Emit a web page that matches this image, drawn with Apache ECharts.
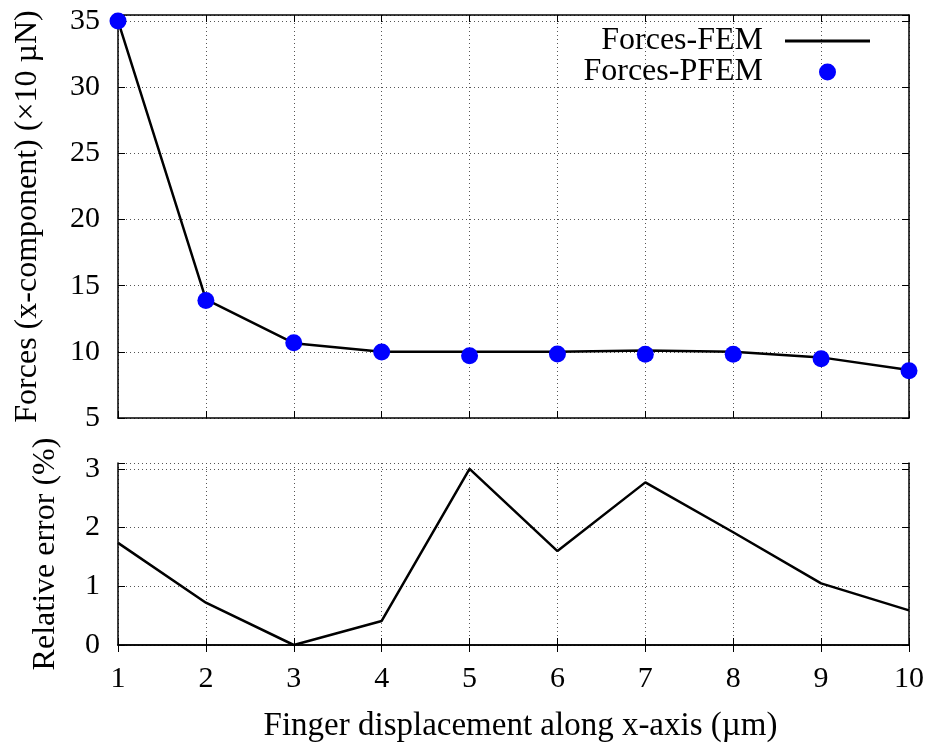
<!DOCTYPE html>
<html>
<head>
<meta charset="utf-8">
<script src="https://cdn.jsdelivr.net/npm/echarts@6/dist/echarts.min.js"></script>
<style>
  html, body { margin: 0; padding: 0; background: #fff; }
  #chart { width: 932px; height: 747px; }
</style>
</head>
<body>
<div id="chart"></div>
<script>
// Finger displacement (µm) vs x-force, FEM reference vs PFEM, plus relative error.
const displacement = [1, 2, 3, 4, 5, 6, 7, 8, 9, 10];
const forcesFEM = [35.0, 13.97, 10.65, 10.0, 10.0, 10.0, 10.1, 10.0, 9.58, 8.63];
const forcesPFEM = [35.0, 13.87, 10.68, 9.98, 9.7, 9.84, 9.82, 9.81, 9.47, 8.57];
const relError = [1.74, 0.72, 0.0, 0.41, 3.0, 1.6, 2.77, 1.92, 1.05, 0.59];

const FONT = 'Liberation Serif';
const pairs = (ys) => displacement.map((x, i) => [x, ys[i]]);

const grid = (top, height) => ({ left: 118, right: 23, top, height, outerBoundsMode: 'none', containLabel: false });
const frameLine = { show: true, lineStyle: { color: '#000', width: 1.5 } };
const inTicks = { show: true, inside: true, length: 7, lineStyle: { color: '#000', width: 1 } };
const dotted = { show: true, lineStyle: { color: '#555', width: 1, type: [1, 3] } };
const tickFont = { fontFamily: FONT, fontSize: 30, color: '#000' };
const nameFont = { fontFamily: FONT, fontSize: 32, color: '#000' };
const legendFont = { fontFamily: FONT, fontSize: 32, color: '#000' };

function xAxis(gridIndex, position, opts) {
  return Object.assign({
    type: 'value', gridIndex, position, min: 1, max: 10, interval: 1,
    axisLine: frameLine, axisTick: inTicks, splitLine: { show: false },
    axisLabel: { show: false },
  }, opts);
}
function yAxis(gridIndex, position, min, max, interval, opts) {
  return Object.assign({
    type: 'value', gridIndex, position, min, max, interval,
    axisLine: frameLine, axisTick: inTicks, splitLine: { show: false },
    axisLabel: { show: false },
  }, opts);
}
const wholeOnly = (v) => (Math.abs(v - Math.round(v)) < 1e-6 ? String(Math.round(v)) : '');

const chart = echarts.init(document.getElementById('chart'), null, { renderer: 'canvas' });
chart.setOption({
  animation: false,
  backgroundColor: '#fff',
  grid: [grid(15, 403), grid(463, 182)],
  xAxis: [
    xAxis(0, 'bottom', { splitLine: dotted }),
    xAxis(0, 'top'),
    xAxis(1, 'bottom', {
      splitLine: dotted,
      axisLabel: Object.assign({ show: true, margin: 19 }, tickFont),
      name: 'Finger displacement along x-axis (\u00b5m)',
      nameLocation: 'middle', nameGap: 65,
      nameTextStyle: Object.assign({}, nameFont, { fontSize: 33, padding: [0, 0, 0, 14] }),
    }),
    xAxis(1, 'top'),
  ],
  yAxis: [
    yAxis(0, 'left', 5, 35.45, 5, {
      splitLine: dotted,
      axisLabel: Object.assign({ show: true, margin: 18, formatter: (v) => (v % 5 === 0 ? String(v) : '') }, tickFont),
      name: 'Forces (x-component) (\u00d710 \u00b5N)',
      nameLocation: 'middle', nameRotate: 90, nameGap: 74, nameTextStyle: nameFont,
    }),
    yAxis(0, 'right', 5, 35.45, 5),
    yAxis(1, 'left', 0, 3.1, 1, {
      splitLine: dotted,
      axisLabel: Object.assign({ show: true, margin: 18, formatter: wholeOnly }, tickFont),
      name: 'Relative error (%)',
      nameLocation: 'middle', nameRotate: 90, nameGap: 56, nameTextStyle: nameFont,
    }),
    yAxis(1, 'right', 0, 3.1, 1),
  ],
  legend: [
    {
      data: ['Forces-FEM'], right: 62, top: 25, padding: 0, orient: 'vertical', align: 'right',
      itemWidth: 85, itemHeight: 3, icon: 'rect',
      itemStyle: { color: '#000', borderWidth: 0 },
      textStyle: Object.assign({ padding: [0, 17, 0, 0] }, legendFont),
      selectedMode: false,
    },
    {
      data: ['Forces-PFEM'], right: 96, top: 56, padding: 0, orient: 'vertical', align: 'right',
      itemWidth: 17, itemHeight: 17, icon: 'circle',
      textStyle: Object.assign({ padding: [0, 51, 0, 0] }, legendFont),
      selectedMode: false,
    },
  ],
  series: [
    {
      name: 'Forces-FEM', type: 'line', xAxisIndex: 0, yAxisIndex: 0,
      data: pairs(forcesFEM), symbol: 'none', z: 2,
      lineStyle: { color: '#000', width: 2.5 }, itemStyle: { color: '#000' },
    },
    {
      name: 'Forces-PFEM', type: 'scatter', xAxisIndex: 0, yAxisIndex: 0,
      data: pairs(forcesPFEM), symbol: 'circle', symbolSize: 17, z: 3,
      itemStyle: { color: '#0000ff', opacity: 1 },
    },
    {
      name: 'Relative error', type: 'line', xAxisIndex: 2, yAxisIndex: 2,
      data: pairs(relError), symbol: 'none',
      lineStyle: { color: '#000', width: 2.5 },
    },
  ],
});
</script>
</body>
</html>
